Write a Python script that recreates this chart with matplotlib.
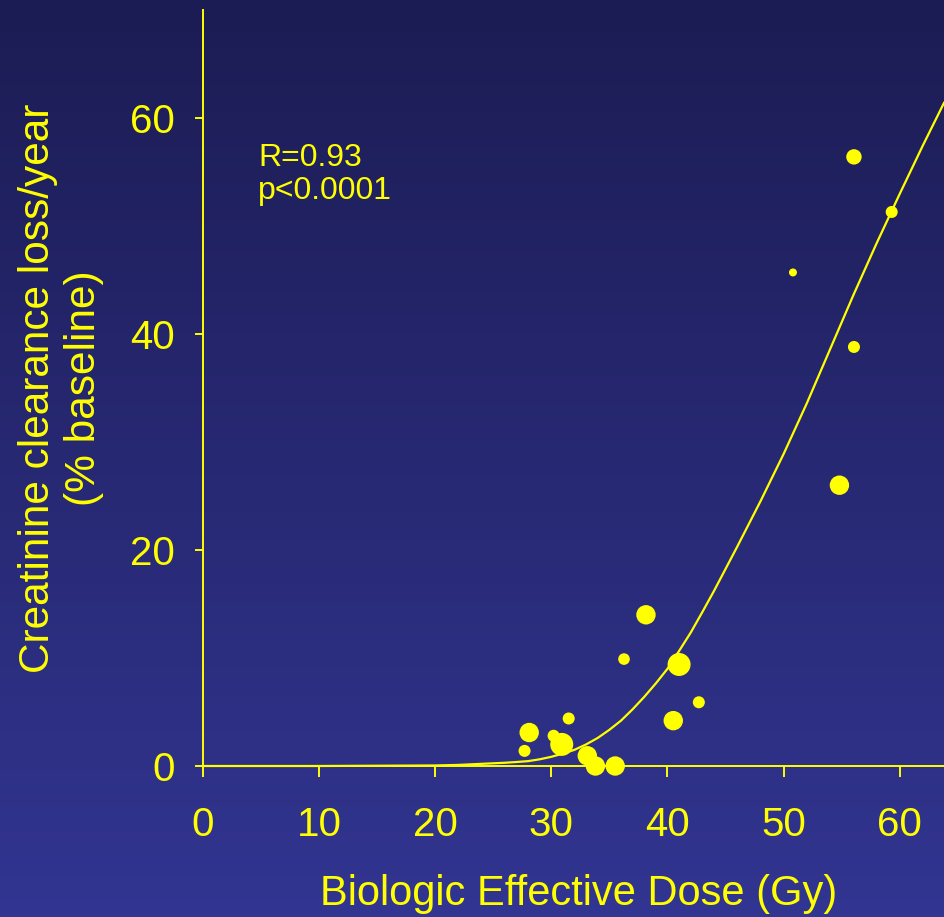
import numpy as np
import matplotlib
matplotlib.use('Agg')
import matplotlib.pyplot as plt
from matplotlib.colors import LinearSegmentedColormap

# ---- data ----
dose = [38.15, 36.26, 41.0, 42.7, 40.5, 28.1, 31.5, 30.2, 30.9, 27.7,
        33.1, 33.8, 35.5, 56.05, 59.3, 50.8, 56.05, 54.8]
loss = [14.0, 9.9, 9.4, 5.9, 4.2, 3.1, 4.4, 2.8, 2.0, 1.4,
        0.95, 0.0, 0.0, 56.4, 51.3, 45.7, 38.8, 26.0]
weight = [195, 70, 274, 75, 195, 195, 75, 75, 274, 75,
          195, 195, 195, 123, 75, 33, 75, 195]

# fitted curve
fit_dose = [0, 10, 20, 22, 24, 26, 27, 28, 29, 30, 31, 32, 33, 34, 35, 36,
            37, 38, 39, 40, 41, 42, 43, 44, 45, 46, 47, 48, 49, 50, 52, 54,
            56, 58, 60, 62, 63.8]
fit_loss = [0.0, 0.0, 0.05, 0.1, 0.2, 0.3, 0.37, 0.45, 0.62, 0.85, 1.15,
            1.5, 2.0, 2.6, 3.35, 4.2, 5.25, 6.4, 7.65, 9.0, 10.65, 12.35,
            14.25, 16.2, 18.25, 20.3, 22.4, 24.5, 26.7, 28.9, 33.6, 38.6,
            43.6, 48.4, 53.0, 57.5, 61.4]

xticks = [0, 10, 20, 30, 40, 50, 60]
yticks = [0, 20, 40, 60]
stats_lines = ["R=0.93", "p<0.0001"]
xlabel = "Biologic Effective Dose (Gy)"
ylabel = "Creatinine clearance loss/year\n(% baseline)"

YEL = '#ffff00'
plt.rcParams['font.family'] = ['Liberation Sans', 'DejaVu Sans']

W, H = 944, 917
fig = plt.figure(figsize=(W / 100, H / 100), dpi=100)

# gradient background
bg = fig.add_axes([0, 0, 1, 1], zorder=0)
grad = np.linspace(0, 1, 256).reshape(-1, 1)
cmap = LinearSegmentedColormap.from_list('bg', ['#1c1c54', '#323591'])
bg.imshow(grad, aspect='auto', cmap=cmap, extent=[0, 1, 0, 1], origin='upper')
bg.set_axis_off()

left, right = 202.7 / W, 1.0
bottom, top = 1 - 766 / H, 1 - 10 / H
ax = fig.add_axes([left, bottom, right - left, top - bottom], zorder=1)
ax.patch.set_alpha(0)
ax.set_xlim(0, 63.8)
ax.set_ylim(0, 70)

for s in ['top', 'right']:
    ax.spines[s].set_visible(False)
for s in ['left', 'bottom']:
    ax.spines[s].set_color(YEL)
    ax.spines[s].set_linewidth(1.4)

ax.set_xticks(xticks)
ax.set_yticks(yticks)
ax.tick_params(axis='x', length=8, width=1.4, color=YEL, labelcolor=YEL,
               labelsize=29, pad=21)
ax.tick_params(axis='y', length=5.8, width=1.4, color=YEL, labelcolor=YEL,
               labelsize=29, pad=14)

ax.plot(fit_dose, fit_loss, color=YEL, lw=1.6, zorder=2, clip_on=False,
        solid_joinstyle='round')
ax.scatter(dose, loss, s=weight, color=YEL, edgecolors='none', zorder=3,
           clip_on=False)

ax.text(4.76, 55.6, stats_lines[0], color=YEL, fontsize=23, va='baseline', ha='left')
ax.text(4.76, 52.5, stats_lines[1], color=YEL, fontsize=23, va='baseline', ha='left')

fig.text(579 / W, 1 - 905 / H, xlabel, color=YEL, fontsize=30,
         ha='center', va='baseline')
fig.text(61 / W, 1 - 388 / H, ylabel, color=YEL, fontsize=30.5,
         ha='center', va='center', rotation=90, linespacing=1.2,
         multialignment='center')

fig.savefig('out.png', dpi=100)
